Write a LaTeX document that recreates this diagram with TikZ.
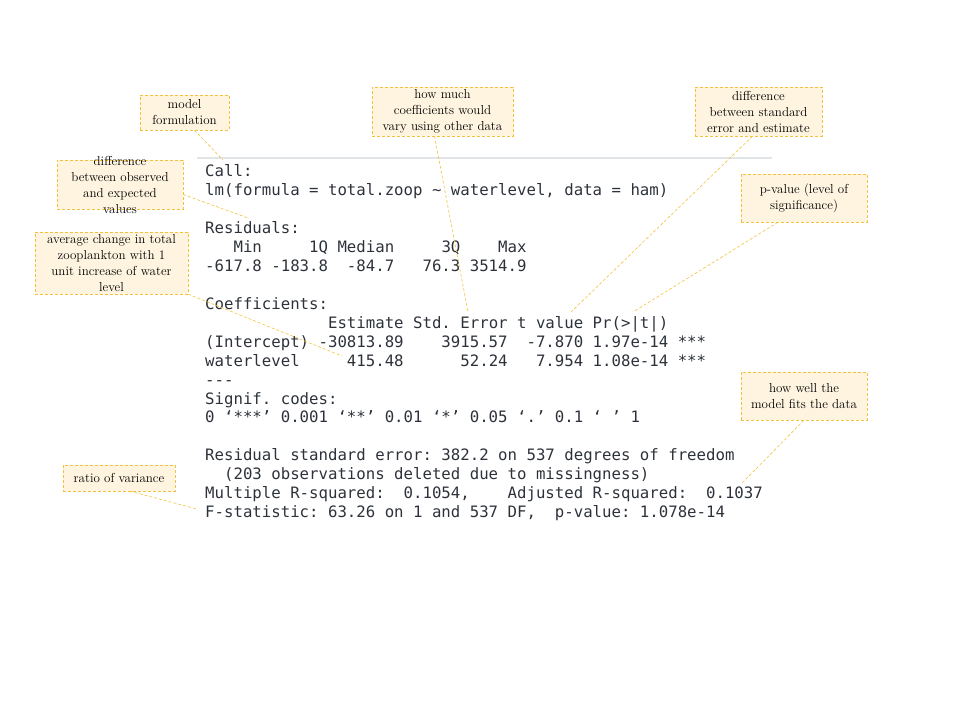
\documentclass[tikz,border=0pt]{standalone}
\usepackage{fontspec}
\usepackage{tikz}
\newfontfamily\consolefont[Ligatures=NoCommon]{DejaVu Sans Mono}
\definecolor{jaune}{RGB}{242,194,60}
\definecolor{creme}{RGB}{254,244,224}
\definecolor{encre}{RGB}{45,50,58}
\definecolor{regle}{RGB}{226,229,232}

\begin{document}
\begin{tikzpicture}[x=1pt, y=-1pt]
			\tikzset{bulle/.style={draw=jaune, dash pattern=on 3pt off 2pt, fill=creme, align=center, inner sep=1pt, font=\fontsize{13}{16}\selectfont, text=black}, lien/.style={draw=jaune, dash pattern=on 3pt off 2pt, line width=0.6pt}, sortie/.style={anchor=base west, inner sep=0pt, text=encre, font=\consolefont\fontsize{15.7}{18.9}\selectfont\frenchspacing}};

			\useasboundingbox (0,0) rectangle (960,720);

			\draw[regle, line width=2pt] (197,158) -- (772,158);

			% sortie de summary(lm)
			\node[sortie] (l1)  at (205,176.7) {Call:};
			\node[sortie] (l2)  at (205,195.6) {lm(formula = total.zoop \textasciitilde{} waterlevel, data = ham)};
			\node[sortie] (l4)  at (205,233.5) {Residuals:};
			\node[sortie] (l5)  at (205,252.5) {~~~Min~~~~~1Q Median~~~~~3Q~~~~Max};
			\node[sortie] (l6)  at (205,271.4) {-617.8 -183.8~~-84.7~~~76.3 3514.9};
			\node[sortie] (l8)  at (205,309.3) {Coefficients:};
			\node[sortie] (l9)  at (205,328.2) {~~~~~~~~~~~~~Estimate Std. Error t value Pr(>|t|)};
			\node[sortie] (l10) at (205,347.2) {(Intercept) -30813.89~~~~3915.57~~-7.870 1.97e-14 ***};
			\node[sortie] (l11) at (205,366.1) {waterlevel~~~~~415.48~~~~~~52.24~~~7.954 1.08e-14 ***};
			\node[sortie] (l12) at (205,385.0) {-{}-{}-};
			\node[sortie] (l13) at (205,404.0) {Signif. codes:};
			\node[sortie] (l14) at (205,422.9) {0 ‘***’ 0.001 ‘**’ 0.01 ‘*’ 0.05 ‘.’ 0.1 ‘ ’ 1};
			\node[sortie] (l16) at (205,460.8) {Residual standard error: 382.2 on 537 degrees of freedom};
			\node[sortie] (l17) at (205,479.7) {~~(203 observations deleted due to missingness)};
			\node[sortie] (l18) at (205,498.6) {Multiple R-squared:~~0.1054,~~~~Adjusted R-squared:~~0.1037};
			\node[sortie] (l19) at (205,517.6) {F-statistic: 63.26 on 1 and 537 DF,~~p-value: 1.078e-14};

			% bulles
			\node[bulle, minimum width=89pt, minimum height=35pt] (modele) at (184.5,112.5) {model\\formulation};
			\node[bulle, minimum width=126pt, minimum height=49pt, inner ysep=-6pt] (ecart) at (120,184.5) {difference\\between observed\\and expected\\values};
			\node[bulle, minimum width=153pt, minimum height=62pt, inner ysep=0.5pt] (pente) at (111.5,263) {average change in total\\zooplankton with 1\\unit increase of water\\level};
			\node[bulle, minimum width=141pt, minimum height=49pt] (erreur) at (442.5,111.5) {how much\\coefficients would\\vary using other data};
			\node[bulle, minimum width=127pt, minimum height=49pt] (tval) at (758.5,111.5) {difference\\between standard\\error and estimate};
			\node[bulle, minimum width=126pt, minimum height=48pt] (pval) at (804,198) {p-value (level of\\significance)};
			\node[bulle, minimum width=126pt, minimum height=48pt] (ajust) at (804,396) {how well the\\model fits the data};
			\node[bulle, minimum width=112pt, minimum height=26pt] (ratio) at (119,478) {ratio of variance};

			% points vises dans la sortie
			\coordinate (pCall) at (223,160);
			\coordinate (pResid) at (248,218);
			\coordinate (pEstim) at (342,356);
			\coordinate (pErreur) at (468,312);
			\coordinate (pT) at (571,312);
			\coordinate (pP) at (633,312);
			\coordinate (pR2) at (742,483);
			\coordinate (pF) at (197,509);

			\draw[lien] ([xshift=10pt]modele.south) to (pCall);
			\draw[lien] ([yshift=-10pt]ecart.east) to (pResid);
			\draw[lien] (pente.south east) to (pEstim);
			\draw[lien] ([xshift=-8pt]erreur.south) to (pErreur);
			\draw[lien] ([xshift=-6pt]tval.south) to (pT);
			\draw[lien] ([xshift=-26pt]pval.south) to (pP);
			\draw[lien] (ajust.south) to (pR2);
			\draw[lien] ([xshift=11pt]ratio.south) to (pF);

		\end{tikzpicture}
\end{document}
